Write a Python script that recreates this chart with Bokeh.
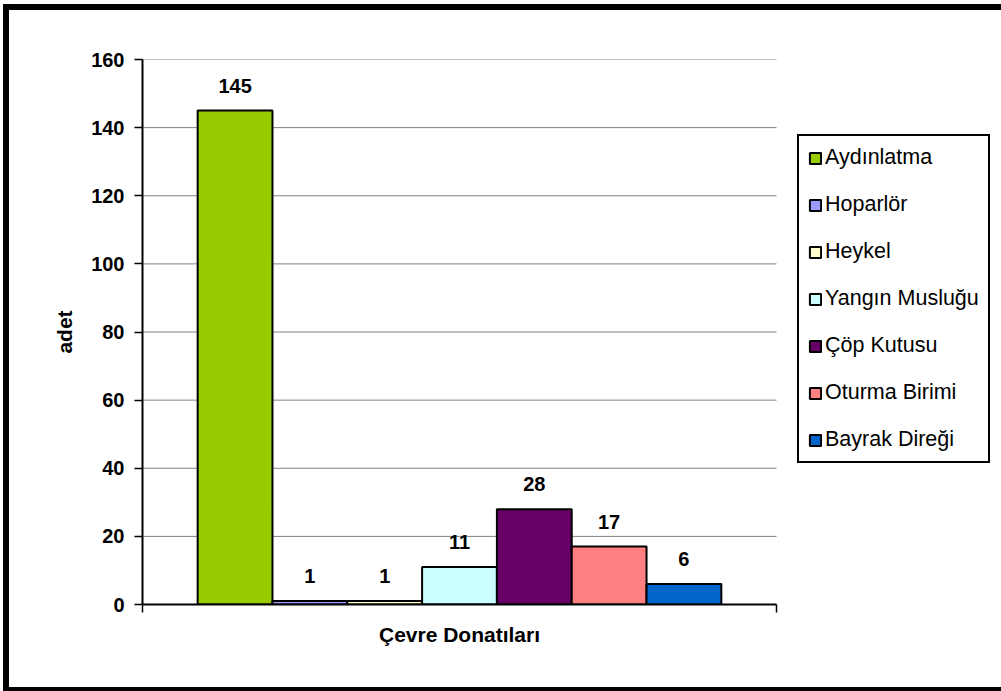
from bokeh.plotting import figure
from bokeh.models import (Range1d, FixedTicker, Legend, LegendItem, ColumnDataSource)
from bokeh.core.properties import value
from bokeh.embed import file_html
from bokeh.resources import INLINE

# ---- data ----
category = "Çevre Donatıları"
series = ["Aydınlatma", "Hoparlör", "Heykel", "Yangın Musluğu",
          "Çöp Kutusu", "Oturma Birimi", "Bayrak Direği"]
counts = [145, 1, 1, 11, 28, 17, 6]
colors = ["#99CC00", "#9999FF", "#FFFFCC", "#CCFFFF",
          "#660066", "#FF8080", "#0066CC"]
y_ticks = [0, 20, 40, 60, 80, 100, 120, 140, 160]
y_label = "adet"

FONT = "Liberation Sans"

# ---- layout constants (pixels) ----
W, H = 992, 677
LEFT, TOP, BOTTOM = 133, 49, 83
CAT_PX = 634          # width of the category (plot) area
frame_w = W - LEFT
x_end = -0.5 + frame_w / CAT_PX

n = len(series)
bar_w = 0.118
xs = [(i - (n - 1) / 2) * bar_w for i in range(n)]

p = figure(width=W, height=H,
           x_range=Range1d(-0.5, x_end), y_range=Range1d(0, 160),
           output_backend="svg", toolbar_location=None,
           min_border_left=LEFT, min_border_right=0,
           min_border_top=TOP, min_border_bottom=BOTTOM)
# thick black chart frame drawn as a ring around the figure
p.styles = {"margin-left": "9px", "margin-top": "10px",
            "box-shadow": "0 0 0 6px black"}
p.outline_line_color = None
p.background_fill_color = "white"
p.border_fill_color = "white"

# horizontal gridlines limited to the category area
p.segment(x0=[-0.5] * len(y_ticks), x1=[0.5] * len(y_ticks),
          y0=y_ticks, y1=y_ticks, line_color="#808080", line_width=1,
          level="underlay")

items = []
for i, (name, c, col) in enumerate(zip(series, counts, colors)):
    src = ColumnDataSource(dict(x=[xs[i]], top=[c]))
    r = p.vbar(x="x", top="top", bottom=0, width=bar_w, source=src,
               fill_color=col, line_color="black", line_width=2)
    items.append(LegendItem(label=name, renderers=[r]))

lab_src = ColumnDataSource(dict(x=xs, y=counts, t=[str(c) for c in counts]))
p.text(x="x", y="y", text="t", source=lab_src,
       text_font=value(FONT), text_font_style="bold", text_font_size="20px",
       text_align="center", text_baseline="alphabetic", y_offset=-25,
       text_color="black")

# axes
p.yaxis.ticker = FixedTicker(ticks=y_ticks)
p.yaxis.minor_tick_line_color = None
p.yaxis.major_tick_in = 0
p.yaxis.major_tick_out = 8
p.yaxis.major_tick_line_width = 1.5
p.yaxis.axis_line_width = 2
p.yaxis.axis_line_color = "black"
p.yaxis.major_tick_line_color = "black"
p.yaxis.major_label_text_font = FONT
p.yaxis.major_label_text_font_style = "bold"
p.yaxis.major_label_text_font_size = "20px"
p.yaxis.major_label_text_color = "black"
p.yaxis.major_label_standoff = 10
p.yaxis.axis_label = y_label
p.yaxis.axis_label_text_font = FONT
p.yaxis.axis_label_text_font_style = "bold"
p.yaxis.axis_label_text_font_size = "21px"
p.yaxis.axis_label_text_color = "black"
p.yaxis.axis_label_standoff = 12

# category axis: label at the centre, tick marks at the category boundaries
p.xaxis.bounds = (-0.5, 0.5)
p.xaxis.ticker = FixedTicker(ticks=[0], minor_ticks=[-0.5, 0.5])
p.xaxis.major_tick_in = 0
p.xaxis.major_tick_out = 0
p.xaxis.minor_tick_in = 0
p.xaxis.minor_tick_out = 8
p.xaxis.minor_tick_line_width = 1.5
p.xaxis.minor_tick_line_color = "black"
p.xaxis.axis_line_width = 2
p.xaxis.axis_line_color = "black"
p.xaxis.major_label_overrides = {0: category}
p.xaxis.major_label_text_font = FONT
p.xaxis.major_label_text_font_style = "bold"
p.xaxis.major_label_text_font_size = "21px"
p.xaxis.major_label_text_color = "black"
p.xaxis.major_label_standoff = 10

p.xgrid.visible = False
p.ygrid.visible = False

legend = Legend(items=items, location=(655, 141),
                border_line_color="black", border_line_width=2,
                border_line_alpha=1,
                background_fill_color="white", background_fill_alpha=1,
                padding=9, spacing=22, margin=0,
                glyph_width=14, glyph_height=14, label_standoff=3,
                label_text_font=FONT, label_text_font_size="21.5px",
                label_text_color="black", label_height=24)
p.add_layout(legend, "center")

open("out.html", "w").write(file_html(p, INLINE))
